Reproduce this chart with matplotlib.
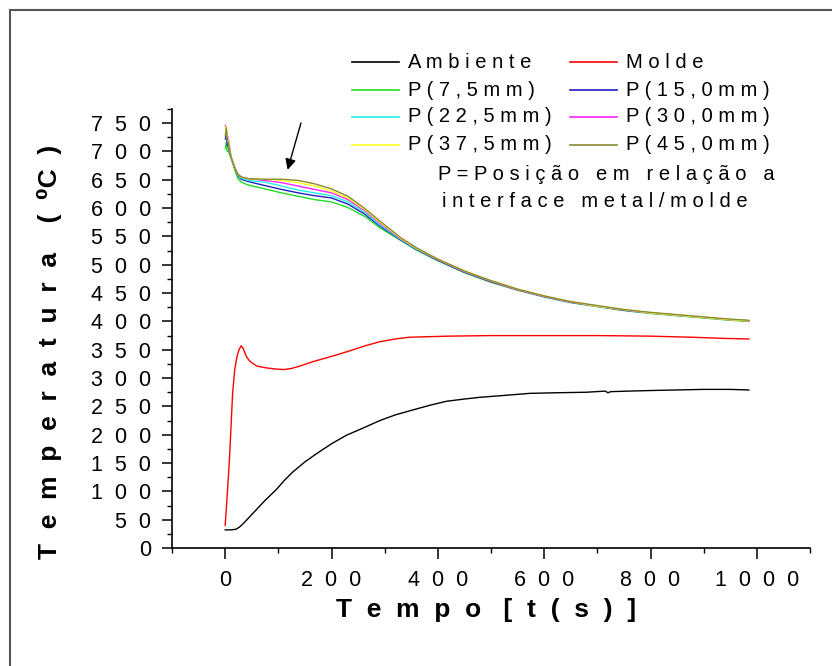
import matplotlib.pyplot as plt
from matplotlib.lines import Line2D
from matplotlib.ticker import MultipleLocator

plt.rcParams['font.family'] = ['Liberation Sans', 'DejaVu Sans']

# ambient temperature (black)
t_amb = [0, 10, 20, 27, 35, 45, 58, 75, 96, 112, 127, 150, 171, 200, 228, 260, 291,
         320, 354, 385, 416, 450, 479, 520, 573, 620, 680, 715, 720, 725, 760, 800,
         850, 900, 950, 985]
T_amb = [32, 32, 33, 37, 44, 54, 67, 84, 103, 120, 134, 152, 166, 184, 199, 212, 225,
         235, 244, 252, 259, 263, 266, 269, 273, 274, 275, 277, 274, 276, 277, 278,
         279, 280, 280, 279]

# mould temperature (red)
t_mold = [0, 4, 8, 14, 18, 22, 26, 30, 34, 40, 46, 52, 60, 77, 95, 110, 125, 140, 165,
          184, 210, 234, 260, 290, 320, 345, 380, 420, 500, 600, 700, 800, 880, 940, 985]
T_mold = [40, 95, 155, 273, 315, 337, 350, 357, 352, 338, 330, 326, 321, 318, 316, 315,
          317, 321, 329, 334, 341, 348, 356, 364, 369, 372, 373, 374, 375, 375, 375, 374,
          372, 370, 369]

# metal thermocouples
t_metal = [0.5, 2, 4, 6, 11, 18, 24, 30, 43, 74, 106, 137, 168, 200, 231, 263, 290, 330,
           360, 400, 450, 500, 550, 600, 650, 700, 750, 800, 850, 900, 950, 985]
T_7_5 = [705, 716, 700, 700, 688, 668, 652, 646, 641, 634, 627, 621, 615, 611, 601, 585,
         566, 543, 526, 507, 486, 469, 455, 443, 433, 426, 419, 414, 410, 406, 402, 400]
T_15_0 = [722, 730, 712, 708, 690, 670, 657, 651, 647, 640, 633, 627, 622, 618, 607, 589,
          569, 544, 527, 508, 487, 470, 456, 444, 434, 427, 420, 415, 411, 407, 403, 401]
T_22_5 = [730, 740, 720, 716, 690, 671, 658, 653, 649, 646, 639, 632, 627, 622, 611, 592,
          571, 545, 528, 509, 488, 471, 456, 444, 434, 427, 420, 415, 411, 407, 403, 401]
T_30_0 = [746, 735, 728, 722, 691, 672, 660, 655, 652, 649, 645, 639, 633, 627, 615, 595,
          574, 546, 529, 509, 488, 471, 456, 444, 434, 427, 420, 415, 411, 407, 403, 401]
T_37_5 = [738, 744, 726, 718, 690, 671, 660, 655, 652, 651, 649, 645, 639, 630, 618, 597,
          576, 547, 529, 510, 489, 472, 457, 445, 435, 427, 421, 415, 411, 407, 403, 401]
T_45_0 = [728, 742, 722, 714, 690, 671, 660, 655, 652, 651, 651, 649, 643, 634, 621, 599,
          578, 548, 530, 510, 489, 472, 457, 445, 435, 428, 421, 416, 412, 408, 404, 402]

metal_series = [
    ("P ( 7 , 5 m m )", T_7_5, "#22dd22"),
    ("P ( 1 5 , 0 m m )", T_15_0, "#2020c0"),
    ("P ( 2 2 , 5 m m )", T_22_5, "#22eeee"),
    ("P ( 3 0 , 0 m m )", T_30_0, "#ff22ff"),
    ("P ( 3 7 , 5 m m )", T_37_5, "#ffff22"),
    ("P ( 4 5 , 0 m m )", T_45_0, "#8a8a30"),
]

xtick_vals = [0, 200, 400, 600, 800, 1000]
ytick_vals = list(range(0, 751, 50))

W, H = 832, 666
fig = plt.figure(figsize=(W / 100, H / 100), dpi=100)
ax = fig.add_axes([172 / W, 1 - 548 / H, (810 - 172) / W, (548 - 109) / H])

ax.plot(t_amb, T_amb, color="black", lw=1.0)
ax.plot(t_mold, T_mold, color="red", lw=1.0)
for lab, vals, col in metal_series:
    ax.plot(t_metal, vals, color=col, lw=1.0)

ax.set_xlim(-100, 1100)
ax.set_ylim(0, 775)
ax.spines["top"].set_visible(False)
ax.spines["right"].set_visible(False)
for s in ("left", "bottom"):
    ax.spines[s].set_linewidth(1.2)

ax.set_xticks(xtick_vals)
ax.set_xticklabels(["  ".join(str(v)) for v in xtick_vals])
ax.set_yticks(ytick_vals)
ax.set_yticklabels(["  ".join(str(v)) for v in ytick_vals])
ax.xaxis.set_minor_locator(MultipleLocator(100))
ax.yaxis.set_minor_locator(MultipleLocator(25))
ax.tick_params(which="major", direction="out", length=7, width=1.1, labelsize=15.5)
ax.tick_params(which="minor", direction="out", length=3.5, width=1.0)
ax.tick_params(axis="x", which="major", length=8, pad=8)
ax.tick_params(axis="y", which="major", pad=8)

ax.set_xlabel("T  e  m  p  o   [  t  (  s  )  ]", fontsize=19, fontweight="bold")
ax.xaxis.set_label_coords(0.492, -0.115)
ax.set_ylabel("T  e  m  p  e  r  a  t  u  r  a    (  \u2070C  )", fontsize=19,
              fontweight="bold")
ax.yaxis.set_label_coords(-0.172, 0.446)

# arrow pointing to the plateau
ax.annotate("", xy=(116, 663), xytext=(144, 755),
            arrowprops=dict(arrowstyle="-|>", color="black", lw=1.0, mutation_scale=16))

# hand-placed legend like the original
def legend_entry(x0, y, color, label):
    fig.add_artist(Line2D([x0 / W, (x0 + 47) / W], [1 - y / H, 1 - y / H],
                          transform=fig.transFigure, color=color, lw=1.2))
    fig.text((x0 + 56) / W, 1 - y / H, label, fontsize=14.5, ha="left", va="center")

legend_entry(352, 62, "black", "A m b i e n t e")
legend_entry(570, 62, "red", "M o l d e")
rows = [90, 117, 145]
for i, (lab, vals, col) in enumerate(metal_series):
    x0 = 352 if i % 2 == 0 else 570
    legend_entry(x0, rows[i // 2], col, lab)

fig.text(775 / W, 1 - 175 / H, "P = P o s i ç ã o   e m   r e l a ç ã o   a",
         fontsize=14.5, ha="right", va="center")
fig.text(748 / W, 1 - 202 / H, "i n t e r f a c e   m e t a l / m o l d e",
         fontsize=14.5, ha="right", va="center")

# outer frame (left and top edges visible)
fig.add_artist(Line2D([10 / W, 10 / W], [0, 1 - 10 / H], transform=fig.transFigure,
                      color="#555555", lw=1.5))
fig.add_artist(Line2D([10 / W, 1], [1 - 10 / H, 1 - 10 / H], transform=fig.transFigure,
                      color="#555555", lw=1.5))

fig.savefig("out.png", dpi=100)
